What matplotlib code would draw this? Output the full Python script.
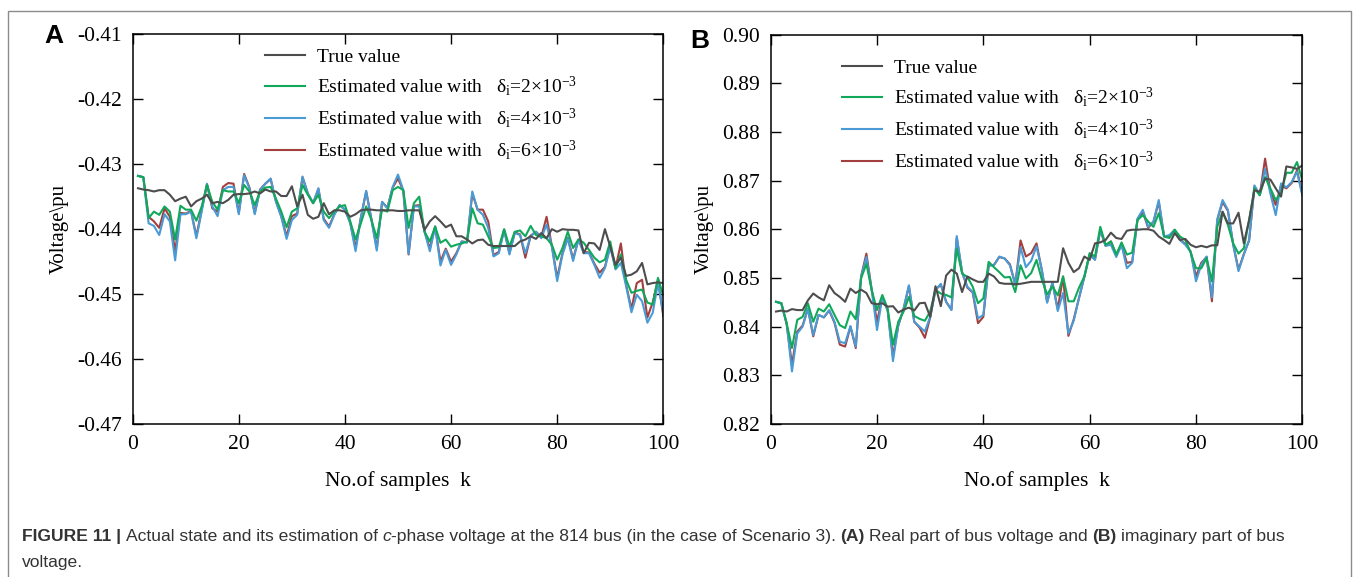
import numpy as np
import matplotlib
matplotlib.use('Agg')
import matplotlib.pyplot as plt
from matplotlib.patches import Rectangle

plt.rcParams['font.family'] = 'Liberation Serif'
plt.rcParams['mathtext.fontset'] = 'custom'
plt.rcParams['mathtext.rm'] = 'Liberation Serif'
plt.rcParams['mathtext.it'] = 'Liberation Serif:italic'
plt.rcParams['axes.unicode_minus'] = False

# ---- data ----
samples = np.arange(1, 101)

true_a = [-0.4337, -0.4339, -0.4340, -0.4342, -0.4340, -0.4340, -0.4347, -0.4357, -0.4353, -0.4350,
          -0.4365, -0.4357, -0.4353, -0.4347, -0.4360, -0.4358, -0.4360, -0.4355, -0.4347, -0.4346,
          -0.4346, -0.4345, -0.4342, -0.4345, -0.4339, -0.4342, -0.4342, -0.4349, -0.4349, -0.4334,
          -0.4365, -0.4347, -0.4378, -0.4384, -0.4381, -0.4360, -0.4377, -0.4371, -0.4371, -0.4373,
          -0.4381, -0.4377, -0.4371, -0.4370, -0.4370, -0.4371, -0.4371, -0.4371, -0.4371, -0.4372,
          -0.4372, -0.4371, -0.4371, -0.4371, -0.4401, -0.4388, -0.4380, -0.4388, -0.4397, -0.4393,
          -0.4411, -0.4411, -0.4416, -0.4422, -0.4417, -0.4416, -0.4424, -0.4426, -0.4426, -0.4426,
          -0.4426, -0.4426, -0.4419, -0.4416, -0.4411, -0.4415, -0.4406, -0.4414, -0.4400, -0.4404,
          -0.4400, -0.4401, -0.4401, -0.4402, -0.4437, -0.4421, -0.4422, -0.4432, -0.4400, -0.4427,
          -0.4455, -0.4444, -0.4472, -0.4470, -0.4465, -0.4452, -0.4485, -0.4483, -0.4482, -0.4483]

est2_a = [-0.4318, -0.4320, -0.4383, -0.4373, -0.4378, -0.4365, -0.4373, -0.4416, -0.4364, -0.4370,
          -0.4370, -0.4387, -0.4365, -0.4332, -0.4358, -0.4370, -0.4340, -0.4342, -0.4342, -0.4360,
          -0.4332, -0.4342, -0.4363, -0.4342, -0.4336, -0.4335, -0.4353, -0.4373, -0.4397, -0.4373,
          -0.4368, -0.4332, -0.4347, -0.4360, -0.4347, -0.4373, -0.4383, -0.4373, -0.4365, -0.4363,
          -0.4388, -0.4416, -0.4391, -0.4365, -0.4386, -0.4414, -0.4370, -0.4373, -0.4340, -0.4335,
          -0.4340, -0.4398, -0.4360, -0.4350, -0.4404, -0.4419, -0.4396, -0.4421, -0.4416, -0.4427,
          -0.4424, -0.4422, -0.4419, -0.4368, -0.4391, -0.4393, -0.4411, -0.4429, -0.4428, -0.4400,
          -0.4427, -0.4404, -0.4402, -0.4411, -0.4395, -0.4409, -0.4411, -0.4414, -0.4424, -0.4447,
          -0.4429, -0.4404, -0.4429, -0.4416, -0.4421, -0.4432, -0.4444, -0.4451, -0.4447, -0.4419,
          -0.4460, -0.4439, -0.4478, -0.4498, -0.4495, -0.4493, -0.4513, -0.4516, -0.4475, -0.4503]

est4_a = [-0.4318, -0.4320, -0.4391, -0.4395, -0.4409, -0.4377, -0.4388, -0.4448, -0.4377, -0.4377,
          -0.4373, -0.4414, -0.4373, -0.4330, -0.4365, -0.4380, -0.4340, -0.4335, -0.4335, -0.4377,
          -0.4317, -0.4337, -0.4377, -0.4340, -0.4330, -0.4322, -0.4358, -0.4381, -0.4415, -0.4386,
          -0.4378, -0.4319, -0.4345, -0.4360, -0.4337, -0.4386, -0.4398, -0.4378, -0.4363, -0.4370,
          -0.4391, -0.4434, -0.4383, -0.4341, -0.4386, -0.4433, -0.4358, -0.4368, -0.4335, -0.4316,
          -0.4340, -0.4438, -0.4365, -0.4365, -0.4404, -0.4434, -0.4396, -0.4456, -0.4432, -0.4455,
          -0.4439, -0.4419, -0.4421, -0.4342, -0.4370, -0.4378, -0.4398, -0.4442, -0.4437, -0.4401,
          -0.4439, -0.4406, -0.4409, -0.4437, -0.4411, -0.4404, -0.4414, -0.4393, -0.4427, -0.4480,
          -0.4439, -0.4414, -0.4449, -0.4416, -0.4437, -0.4437, -0.4455, -0.4475, -0.4460, -0.4427,
          -0.4462, -0.4452, -0.4488, -0.4528, -0.4501, -0.4511, -0.4544, -0.4529, -0.4483, -0.4529]

est6_a = [-0.4318, -0.4320, -0.4381, -0.4388, -0.4398, -0.4368, -0.4381, -0.4434, -0.4375, -0.4376,
          -0.4372, -0.4411, -0.4370, -0.4331, -0.4368, -0.4373, -0.4335, -0.4329, -0.4330, -0.4375,
          -0.4315, -0.4336, -0.4375, -0.4339, -0.4330, -0.4323, -0.4357, -0.4380, -0.4411, -0.4380,
          -0.4376, -0.4320, -0.4345, -0.4360, -0.4338, -0.4384, -0.4396, -0.4377, -0.4363, -0.4370,
          -0.4390, -0.4429, -0.4382, -0.4342, -0.4385, -0.4430, -0.4358, -0.4367, -0.4336, -0.4322,
          -0.4341, -0.4439, -0.4364, -0.4363, -0.4403, -0.4430, -0.4396, -0.4450, -0.4430, -0.4450,
          -0.4437, -0.4419, -0.4420, -0.4345, -0.4370, -0.4370, -0.4388, -0.4440, -0.4435, -0.4401,
          -0.4437, -0.4405, -0.4408, -0.4444, -0.4410, -0.4404, -0.4412, -0.4381, -0.4426, -0.4475,
          -0.4437, -0.4413, -0.4446, -0.4416, -0.4435, -0.4436, -0.4453, -0.4467, -0.4458, -0.4426,
          -0.4460, -0.4422, -0.4486, -0.4523, -0.4483, -0.4478, -0.4536, -0.4513, -0.4478, -0.4534]

true_b = [0.8431, 0.8433, 0.8431, 0.8436, 0.8434, 0.8434, 0.8454, 0.8468, 0.8460, 0.8454,
          0.8485, 0.8469, 0.8461, 0.8451, 0.8478, 0.8469, 0.8476, 0.8469, 0.8448, 0.8446,
          0.8448, 0.8441, 0.8442, 0.8429, 0.8435, 0.8439, 0.8433, 0.8448, 0.8449, 0.8420,
          0.8483, 0.8442, 0.8505, 0.8517, 0.8509, 0.8471, 0.8503, 0.8497, 0.8492, 0.8492,
          0.8509, 0.8503, 0.8490, 0.8488, 0.8488, 0.8487, 0.8488, 0.8490, 0.8492, 0.8492,
          0.8492, 0.8492, 0.8492, 0.8492, 0.8561, 0.8531, 0.8512, 0.8520, 0.8544, 0.8537,
          0.8571, 0.8573, 0.8578, 0.8593, 0.8582, 0.8580, 0.8597, 0.8599, 0.8599, 0.8600,
          0.8600, 0.8597, 0.8585, 0.8578, 0.8570, 0.8592, 0.8578, 0.8580, 0.8568, 0.8563,
          0.8566, 0.8563, 0.8567, 0.8567, 0.8636, 0.8612, 0.8612, 0.8634, 0.8571, 0.8619,
          0.8680, 0.8677, 0.8704, 0.8702, 0.8684, 0.8667, 0.8729, 0.8727, 0.8724, 0.8731]

est2_b = [0.8451, 0.8448, 0.8407, 0.8356, 0.8414, 0.8420, 0.8448, 0.8410, 0.8437, 0.8431,
          0.8446, 0.8424, 0.8403, 0.8397, 0.8431, 0.8415, 0.8499, 0.8529, 0.8475, 0.8434,
          0.8465, 0.8437, 0.8363, 0.8410, 0.8431, 0.8461, 0.8422, 0.8416, 0.8412, 0.8431,
          0.8475, 0.8468, 0.8465, 0.8460, 0.8560, 0.8509, 0.8502, 0.8482, 0.8448, 0.8458,
          0.8533, 0.8522, 0.8512, 0.8501, 0.8502, 0.8471, 0.8526, 0.8499, 0.8510, 0.8537,
          0.8497, 0.8466, 0.8483, 0.8464, 0.8503, 0.8452, 0.8452, 0.8480, 0.8503, 0.8551,
          0.8544, 0.8605, 0.8568, 0.8575, 0.8548, 0.8573, 0.8548, 0.8552, 0.8619, 0.8629,
          0.8616, 0.8605, 0.8633, 0.8585, 0.8582, 0.8599, 0.8585, 0.8578, 0.8552, 0.8520,
          0.8520, 0.8541, 0.8493, 0.8605, 0.8636, 0.8609, 0.8571, 0.8550, 0.8561, 0.8619,
          0.8684, 0.8670, 0.8707, 0.8684, 0.8660, 0.8675, 0.8716, 0.8716, 0.8738, 0.8701]

est4_b = [0.8451, 0.8448, 0.8407, 0.8308, 0.8386, 0.8400, 0.8437, 0.8383, 0.8424, 0.8419,
          0.8434, 0.8410, 0.8369, 0.8366, 0.8401, 0.8359, 0.8502, 0.8543, 0.8475, 0.8393,
          0.8461, 0.8434, 0.8329, 0.8403, 0.8437, 0.8485, 0.8410, 0.8400, 0.8390, 0.8420,
          0.8475, 0.8488, 0.8451, 0.8434, 0.8586, 0.8512, 0.8482, 0.8471, 0.8417, 0.8424,
          0.8526, 0.8526, 0.8544, 0.8540, 0.8526, 0.8488, 0.8563, 0.8522, 0.8535, 0.8565,
          0.8517, 0.8449, 0.8491, 0.8432, 0.8469, 0.8386, 0.8412, 0.8459, 0.8503, 0.8548,
          0.8537, 0.8599, 0.8566, 0.8568, 0.8543, 0.8568, 0.8520, 0.8531, 0.8622, 0.8640,
          0.8605, 0.8616, 0.8660, 0.8585, 0.8588, 0.8599, 0.8578, 0.8568, 0.8554, 0.8493,
          0.8527, 0.8544, 0.8460, 0.8620, 0.8660, 0.8640, 0.8568, 0.8514, 0.8548, 0.8578,
          0.8690, 0.8670, 0.8724, 0.8673, 0.8629, 0.8694, 0.8686, 0.8697, 0.8718, 0.8670]

est6_b = [0.8451, 0.8448, 0.8405, 0.8322, 0.8390, 0.8402, 0.8437, 0.8380, 0.8424, 0.8419,
          0.8433, 0.8408, 0.8363, 0.8359, 0.8400, 0.8356, 0.8503, 0.8550, 0.8476, 0.8410,
          0.8461, 0.8433, 0.8339, 0.8402, 0.8437, 0.8483, 0.8410, 0.8398, 0.8377, 0.8419,
          0.8476, 0.8486, 0.8451, 0.8435, 0.8582, 0.8512, 0.8480, 0.8470, 0.8407, 0.8420,
          0.8525, 0.8527, 0.8543, 0.8540, 0.8528, 0.8486, 0.8577, 0.8544, 0.8551, 0.8571,
          0.8516, 0.8451, 0.8490, 0.8436, 0.8503, 0.8381, 0.8415, 0.8459, 0.8502, 0.8548,
          0.8538, 0.8598, 0.8566, 0.8575, 0.8548, 0.8568, 0.8531, 0.8533, 0.8620, 0.8636,
          0.8603, 0.8615, 0.8656, 0.8586, 0.8586, 0.8598, 0.8578, 0.8570, 0.8554, 0.8503,
          0.8531, 0.8543, 0.8452, 0.8619, 0.8656, 0.8638, 0.8569, 0.8517, 0.8549, 0.8577,
          0.8688, 0.8670, 0.8745, 0.8677, 0.8650, 0.8690, 0.8684, 0.8695, 0.8721, 0.8673]

labels = ['True value',
          r'Estimated value with   δ$_{\mathrm{i}}$=2×10$^{\mathrm{-3}}$',
          r'Estimated value with   δ$_{\mathrm{i}}$=4×10$^{\mathrm{-3}}$',
          r'Estimated value with   δ$_{\mathrm{i}}$=6×10$^{\mathrm{-3}}$']
colors = ['#4d4d4d', '#10a95b', '#4a9bd5', '#a33f3f']

W, H = 1356, 577
fig = plt.figure(figsize=(W / 100, H / 100), dpi=100)

# grey frame round the whole figure
fig.patches.append(Rectangle((8 / W, -0.05), (1351 - 8) / W, 1.05 - 11 / H,
                             transform=fig.transFigure, fill=False,
                             edgecolor='#8c8c8c', linewidth=1.0))


def draw_panel(ax, series, ylim, yticks, leg_anchor):
    handles = [None] * 4
    # red first so the blue sits on top of it, grey last
    for idx in [3, 2, 1, 0]:
        ln, = ax.plot(samples, series[idx], color=colors[idx], lw=1.5)
        handles[idx] = ln
    ax.set_xlim(0, 100)
    ax.set_ylim(*ylim)
    ax.set_xticks(range(0, 101, 20))
    ax.set_yticks(yticks)
    ax.set_yticklabels(['%.2f' % t for t in yticks])
    ax.tick_params(direction='in', top=True, right=True, length=7, width=1,
                   labelsize=15.5, pad=8)
    for sp in ax.spines.values():
        sp.set_linewidth(1.1)
    ax.set_xlabel('No.of samples  k', fontsize=15.5, labelpad=12)
    ax.set_ylabel('Voltage\\pu', fontsize=15, labelpad=6)
    ax.legend(handles, labels, loc='upper left', bbox_to_anchor=leg_anchor,
              frameon=False, fontsize=14, borderaxespad=0, borderpad=0,
              handlelength=2.05, handletextpad=0.65, labelspacing=0.42)


ax_a = fig.add_axes([132.7 / W, 1 - 424 / H, 530.6 / W, 389.7 / H])
draw_panel(ax_a, [true_a, est2_a, est4_a, est6_a], (-0.47, -0.41),
           np.round(np.arange(-0.47, -0.405, 0.01), 2), (0.249, 0.964))

ax_b = fig.add_axes([770.7 / W, 1 - 424 / H, 531.6 / W, 389.5 / H])
draw_panel(ax_b, [true_b, est2_b, est4_b, est6_b], (0.82, 0.90),
           np.round(np.arange(0.82, 0.905, 0.01), 2), (0.134, 0.936))

fig.text(54 / W, 1 - 36 / H, 'A', fontsize=19, fontweight='bold',
         family='Liberation Sans', ha='center', va='center')
fig.text(700 / W, 1 - 41 / H, 'B', fontsize=19, fontweight='bold',
         family='Liberation Sans', ha='center', va='center')

# caption, placed piece by piece so bold parts can be mixed in
cap_font = 'Liberation Sans'
cap_size = 12.6
space = cap_size * 100 / 72 * 0.26

line1 = [('FIGURE 11 |', 'bold', 'normal'),
         ('Actual state and its estimation of', 'normal', 'normal'),
         ('c', 'normal', 'italic'),
         ('-phase voltage at the 814 bus (in the case of Scenario 3).', 'normal', 'normal'),
         ('(A)', 'bold', 'normal'),
         ('Real part of bus voltage and', 'normal', 'normal'),
         ('(B)', 'bold', 'normal'),
         ('imaginary part of bus', 'normal', 'normal')]
line2 = [('voltage.', 'normal', 'normal')]

renderer = fig.canvas.get_renderer()


def put_line(parts, x0, base_y):
    x = x0
    for s, w, st in parts:
        t = fig.text(x / W, 1 - base_y / H, s, fontsize=cap_size, fontweight=w,
                     fontstyle=st, family=cap_font, color='#333333', va='baseline')
        bb = t.get_window_extent(renderer=renderer)
        x = bb.x1
        if s != 'c':  # the hyphen follows the italic c directly
            x += space


put_line(line1, 22, 541)
put_line(line2, 22, 567)

fig.savefig('out.png', dpi=100)
